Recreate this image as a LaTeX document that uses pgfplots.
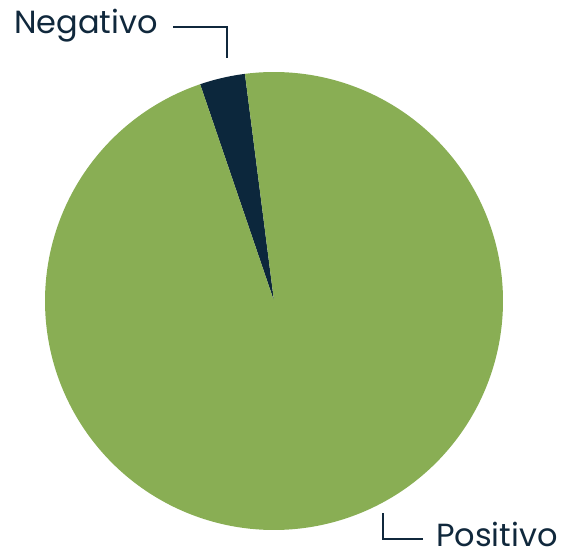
\documentclass[border=0pt]{standalone}
\usepackage{pgfplots}
\pgfplotsset{compat=1.18}
\usepackage{fontspec}
\setmainfont{Poppins}
\definecolor{pgreen}{RGB}{137,174,84}
\definecolor{pnavy}{RGB}{12,39,60}
\definecolor{ptext}{RGB}{16,40,60}
\begin{document}
\begin{tikzpicture}
% values (percent)
\def\neg{3.2}
\def\pos{96.8}
\def\start{97.3}
\pgfmathsetmacro{\negend}{\start+3.6*\neg}
\pgfmathsetmacro{\posend}{\negend+3.6*\pos}
\begin{axis}[
  width=577pt, height=554pt, scale only axis,
  xmin=0, xmax=577, ymin=0, ymax=554,
  hide axis, clip=false,
]
\addplot[fill=pnavy, draw=none, domain=\start:\negend, samples=30, variable=\t]
  ({274+229*cos(\t)}, {253+229*sin(\t)}) -- (axis cs:274,253) -- cycle;
\addplot[fill=pgreen, draw=none, domain=\negend:\posend, samples=300, variable=\t]
  ({274+229*cos(\t)}, {253+229*sin(\t)}) -- (axis cs:274,253) -- cycle;
\draw[ptext, line width=1.8pt] (axis cs:173,527) -- (axis cs:227,527) -- (axis cs:227,496);
\draw[ptext, line width=1.8pt] (axis cs:383,41) -- (axis cs:383,15) -- (axis cs:423,15);
\node[anchor=base west, text=ptext, font=\fontsize{32}{32}\selectfont, inner sep=0pt] at (axis cs:14,520) {Negativo};
\node[anchor=base west, text=ptext, font=\fontsize{32}{33}\selectfont, inner sep=0pt] at (axis cs:436,8) {Positivo};
\end{axis}
\pgfresetboundingbox
\useasboundingbox (0,0) rectangle (577pt,554pt);
\end{tikzpicture}
\end{document}
